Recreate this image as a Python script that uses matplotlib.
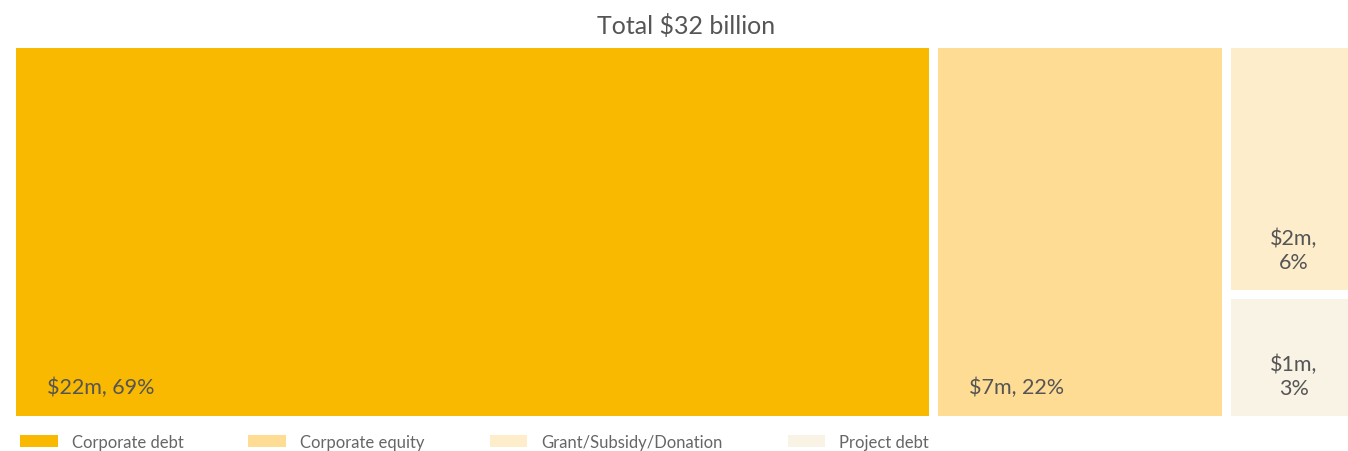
import matplotlib
matplotlib.use("Agg")
import matplotlib.pyplot as plt
from matplotlib.patches import Rectangle, Patch

categories = ["Corporate debt", "Corporate equity", "Grant/Subsidy/Donation", "Project debt"]
values = [22, 7, 2, 1]          # $ (as labelled)
percents = [69, 22, 6, 3]
labels = ["$22m, 69%", "$7m, 22%", "$2m,\n6%", "$1m,\n3%"]
colors = ["#F8B900", "#FEDC94", "#FEEDCB", "#F8F3E5"]
title = "Total $32 billion"

W, H = 1348, 452
fig = plt.figure(figsize=(W / 100, H / 100), dpi=100)
ax = fig.add_axes([0, 0, 1, 1])
ax.set_xlim(0, W)
ax.set_ylim(H, 0)
ax.axis("off")

FONT = ["Lato", "DejaVu Sans"]
TXT = "#555555"

# treemap region
x0, x1, y0, y1 = 16, 1357, 49, 426
gap = 9
total = sum(values)
# columns: first two values alone, remaining stacked
cols = [[0], [1], [2, 3]]
cx = x0
for col in cols:
    csum = sum(values[i] for i in col)
    cw = (x1 - x0) * csum / total
    cy = y0
    for i in col:
        ch = (y1 - y0) * values[i] / csum
        rw, rh = cw - gap, ch - gap
        ax.add_patch(Rectangle((cx, cy), rw, rh, facecolor=colors[i], edgecolor="none"))
        if len(col) == 1:
            ax.text(cx + 31, cy + rh - 23, labels[i], ha="left", va="baseline",
                    fontsize=15.5, color=TXT, family=FONT)
        else:
            ax.text(cx + rw / 2 + 4, cy + rh - 18, labels[i], ha="center", va="bottom",
                    fontsize=15.5, color=TXT, family=FONT, linespacing=1.25)
        cy += ch
    cx += cw

ax.text(686, 26, title, ha="center", va="center", fontsize=18, color="#555555",
        family=FONT)

handles = [Patch(facecolor=c, edgecolor="none") for c in colors]
leg = ax.legend(handles, categories, ncol=4, loc="center left",
                bbox_to_anchor=(20 / W, 1 - 443 / H), frameon=False,
                handlelength=2.25, handleheight=0.75, handletextpad=0.85,
                columnspacing=3.9, borderaxespad=0, borderpad=0,
                prop={"family": FONT, "size": 12})
for t in leg.get_texts():
    t.set_color("#666666")

fig.savefig("out.png", dpi=100, facecolor="white")
